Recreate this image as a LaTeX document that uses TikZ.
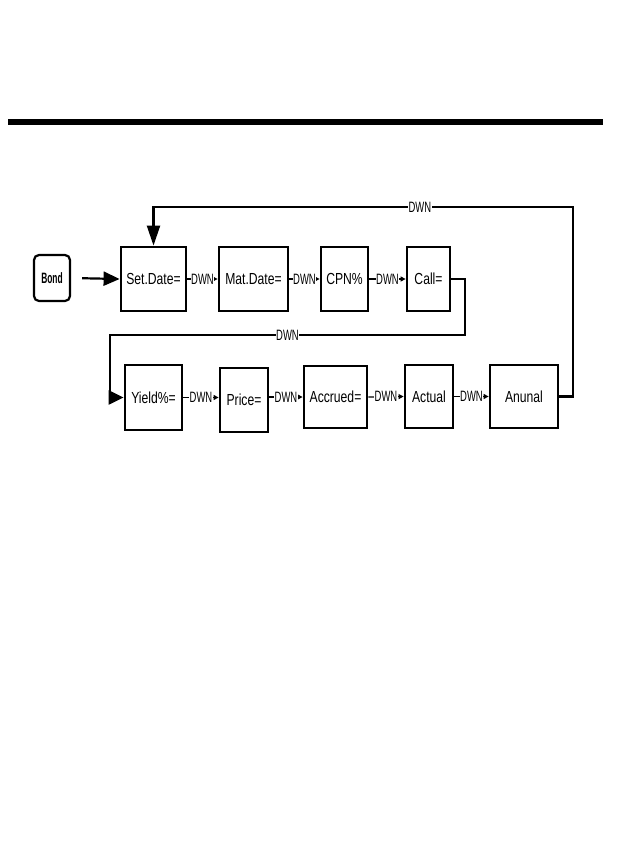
\documentclass[tikz,border=0pt]{standalone}
\usepackage{fontspec}
\setmainfont{Liberation Sans}
\newfontfamily\boxfont{Liberation Sans}[FakeStretch=0.76]
\newfontfamily\dwnfont{Liberation Sans}[FakeStretch=0.63]
\newfontfamily\bondfont{Liberation Sans}[FakeStretch=0.56]
\usetikzlibrary{arrows.meta}
\begin{document}
\begin{tikzpicture}[x=1pt,y=-1pt,
  stepbox/.style={draw, line width=2.8pt, inner sep=0pt, font=\boxfont\fontsize{16}{19}\selectfont},
  bondbox/.style={draw, line width=2.2pt, rounded corners=5pt, inner sep=0pt, font=\bondfont\bfseries\fontsize{15}{18}\selectfont},
  conn/.style={line width=2.2pt, line join=miter},
  dwnline/.style={line width=1.2pt, -{Triangle[length=5pt,width=5pt]}},
  dwnlbl/.style={fill=white, inner sep=0.6pt, font=\dwnfont\fontsize{15}{18}\selectfont},
  bigtip/.style={-{Triangle[length=#1,width=14pt]}}
]
\useasboundingbox (0,0) rectangle (633,865);
% top rule
\fill (8,119) rectangle (603,125);

% nodes
\node[bondbox, minimum width=36pt, minimum height=46pt] (bond) at (52,278) {Bond};
\node[stepbox, minimum width=65pt, minimum height=64pt] (sd) at (153.5,279) {Set.Date=};
\node[stepbox, minimum width=69pt, minimum height=64pt] (md) at (253.5,279) {Mat.Date=};
\node[stepbox, minimum width=47pt, minimum height=64pt] (cpn) at (344.5,279) {CPN\%};
\node[stepbox, minimum width=43pt, minimum height=64pt] (call) at (428.5,279) {Call=};

\node[stepbox, minimum width=57pt, minimum height=65pt] (yield) at (153.5,397.5) {Yield\%=};
\node[stepbox, minimum width=48pt, minimum height=64pt] (price) at (244,400) {Price=};
\node[stepbox, minimum width=63pt, minimum height=62pt] (accr) at (335.5,397) {Accrued=};
\node[stepbox, minimum width=48pt, minimum height=63pt] (actual) at (429,396.5) {Actual};
\node[stepbox, minimum width=68pt, minimum height=63pt] (anunal) at (524,396.5) {Anunal};

% entry arrow
\draw[conn, bigtip=16pt, shorten <=11pt] (bond.east) -- (sd.west);

% top row DWN connectors
\draw[dwnline] (sd.east) -- node[dwnlbl]{DWN} (md.west);
\draw[dwnline] (md.east) -- node[dwnlbl]{DWN} (cpn.west);
\draw[dwnline] (cpn.east) -- node[dwnlbl]{DWN} (call.west);

% bottom row DWN connectors
\draw[dwnline] (yield.east) -- node[dwnlbl]{DWN} (yield.east -| price.west);
\draw[dwnline] (accr.west -| price.east) -- node[dwnlbl]{DWN} (accr.west);
\draw[dwnline] (accr.east) -- node[dwnlbl]{DWN} (actual.west);
\draw[dwnline] (actual.east) -- node[dwnlbl]{DWN} (anunal.west);

% loop from Call= to Yield%=
\coordinate (c1) at (465,335);
\coordinate (c2) at (110,335);
\draw[conn, bigtip=15pt] (call.east) -| (c1) -- node[dwnlbl]{DWN} (c2) |- (yield.west);

% loop from Anunal back to Set.Date=
\coordinate (t1) at (573,207);
\coordinate (t2) at (153.5,207);
\draw[conn, -{Triangle[length=20pt,width=13pt]}] (anunal.east) -| (t1) -- node[dwnlbl, pos=0.365]{DWN} (t2) -- (sd.north);
\end{tikzpicture}
\end{document}
